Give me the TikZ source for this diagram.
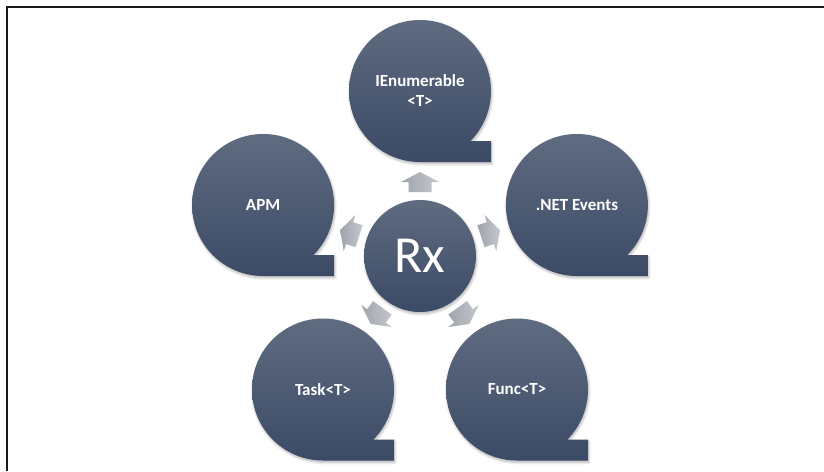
\documentclass[tikz,border=0pt]{standalone}
\usepackage{fontspec}
\setmainfont{Carlito}
\usetikzlibrary{shadows.blur}

\definecolor{slateTop}{HTML}{5F6B80}
\definecolor{slateBot}{HTML}{3B4A66}
\definecolor{arrowLight}{HTML}{C4C7CD}
\definecolor{arrowDark}{HTML}{A0A4AC}
\definecolor{frameInk}{HTML}{1A1A1A}

\tikzset{
  softshadow/.style={blur shadow={shadow xshift=0.8pt, shadow yshift=-1.8pt,
      shadow blur steps=6, shadow blur radius=2.5pt, shadow opacity=30}},
  tapefill/.style={top color=slateTop, bottom color=slateBot, softshadow},
  % circle with a square tail at the lower right (sequential-storage shape)
  tapeshape/.pic={
    \path[tapefill] (0,71) arc[start angle=90, end angle=405, radius=71]
      -- (71,50.2) -- (71,71) -- cycle;
  },
  tapetext/.style={text=white, align=center,
      font=\bfseries\fontsize{17}{20}\selectfont},
  hubcircle/.style={circle, minimum size=112pt, inner sep=0pt,
      top color=slateTop, bottom color=slateBot, softshadow,
      text=white, font=\fontsize{52}{52}\selectfont},
  % small block arrow pointing along local +x
  blockarrow/.pic={
    \path[left color=arrowDark, right color=arrowLight]
      (-10,-11.5) -- (0,-11.5) -- (0,-19) -- (10,0) -- (0,19)
      -- (0,11.5) -- (-10,11.5) -- cycle;
  },
}

\begin{document}
\begin{tikzpicture}[x=1pt, y=-1pt]
  \useasboundingbox (0,0) rectangle (824,471);

  % frame
  \draw[frameInk, line width=2pt] (7,471) -- (7,7) -- (824,7);

  % outer shapes
  \pic at (420,91)    {tapeshape};
  \pic at (576.9,205) {tapeshape};
  \pic at (517,389.5) {tapeshape};
  \pic at (323,389.5) {tapeshape};
  \pic at (263.1,205) {tapeshape};

  \node[tapetext] (ienum) at (420,91)    {IEnumerable\\<T>};
  \node[tapetext] (net)   at (576.9,205) {.NET Events};
  \node[tapetext] (func)  at (517,389.5) {Func<T>};
  \node[tapetext] (task)  at (323,389.5) {Task<T>};
  \node[tapetext] (apm)   at (263.1,205) {APM};

  % hub
  \node[hubcircle] (rx) at (420,256) {Rx};

  % arrows from the hub outwards
  \pic[rotate=90]   at (420,182)     {blockarrow};
  \pic[rotate=18]   at (490.4,233.1) {blockarrow};
  \pic[rotate=-54]  at (463.5,315.9) {blockarrow};
  \pic[rotate=-126] at (376.5,315.9) {blockarrow};
  \pic[rotate=162]  at (349.6,233.1) {blockarrow};
\end{tikzpicture}
\end{document}
